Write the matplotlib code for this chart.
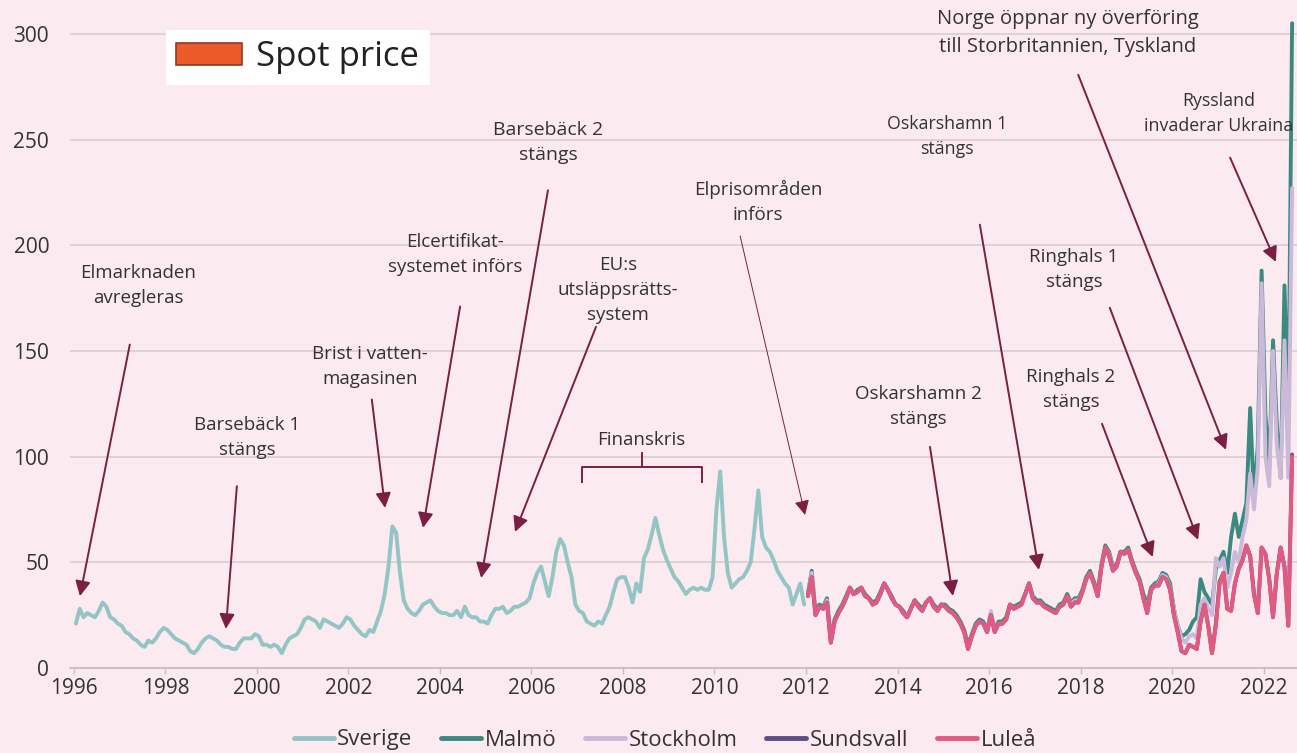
import numpy as np
import matplotlib.pyplot as plt
from matplotlib.patches import Patch

plt.rcParams['font.family'] = ['Open Sans', 'DejaVu Sans']

# monthly spot price, öre/kWh
sverige = [
    21, 28, 24, 26, 25, 24, 27, 31, 29, 24, 23, 21,   # 1996
    20, 17, 16, 14, 13, 11, 10, 13, 12, 14, 17, 19,   # 1997
    18, 16, 14, 13, 12, 11, 8, 7, 9, 12, 14, 15,      # 1998
    14, 13, 11, 10, 10, 9, 9, 12, 14, 14, 14, 16,     # 1999
    15, 11, 11, 10, 11, 10, 7, 11, 14, 15, 16, 19,    # 2000
    23, 24, 23, 22, 19, 23, 22, 21, 20, 19, 21, 24,   # 2001
    23, 20, 18, 16, 15, 18, 17, 22, 27, 35, 48, 67,   # 2002
    64, 45, 32, 28, 26, 25, 27, 30, 31, 32, 29, 27,   # 2003
    26, 26, 25, 25, 27, 24, 29, 25, 24, 24, 22, 22,   # 2004
    21, 25, 28, 28, 29, 26, 27, 29, 29, 30, 31, 33,   # 2005
    40, 45, 48, 41, 34, 43, 55, 61, 58, 50, 43, 30,   # 2006
    27, 26, 22, 21, 20, 22, 21, 25, 29, 36, 42, 43,   # 2007
    43, 38, 31, 40, 36, 52, 56, 63, 71, 63, 56, 51,   # 2008
    47, 43, 41, 38, 35, 37, 38, 37, 38, 37, 37, 43,   # 2009
    75, 93, 62, 45, 38, 40, 42, 43, 46, 50, 66, 84,   # 2010
    62, 57, 55, 51, 46, 43, 40, 38, 30, 35, 40, 30,   # 2011
]

malmo = [
    35, 46, 26, 30, 29, 33, 14, 23, 27, 30, 34, 38,   # 2012
    35, 37, 38, 35, 33, 31, 32, 36, 40, 37, 34, 30,   # 2013
    29, 27, 24, 28, 32, 30, 28, 31, 33, 30, 28, 30,   # 2014
    30, 28, 27, 25, 22, 18, 11, 16, 21, 23, 22, 18,   # 2015
    26, 18, 22, 22, 24, 30, 29, 30, 31, 35, 40, 34,   # 2016
    32, 32, 30, 29, 28, 27, 30, 31, 35, 31, 33, 33,   # 2017
    37, 43, 46, 41, 36, 49, 58, 55, 48, 49, 55, 55,   # 2018
    57, 51, 46, 42, 35, 30, 38, 40, 41, 45, 44, 40,   # 2019
    28, 20, 15, 16, 18, 22, 24, 42, 36, 33, 30, 47,   # 2020
    51, 55, 45, 62, 73, 62, 70, 78, 123, 80, 105, 188,  # 2021
    120, 95, 155, 115, 90, 181, 117, 305,             # 2022
]

stockholm = [
    34, 45, 25, 29, 28, 32, 13, 22, 26, 29, 33, 38,   # 2012
    35, 36, 38, 34, 33, 30, 31, 35, 40, 37, 33, 30,   # 2013
    29, 26, 24, 28, 32, 29, 27, 31, 33, 29, 27, 30,   # 2014
    29, 27, 26, 24, 21, 17, 10, 15, 20, 22, 21, 17,   # 2015
    27, 17, 21, 21, 23, 30, 28, 29, 30, 35, 40, 33,   # 2016
    31, 31, 29, 28, 27, 26, 29, 30, 34, 30, 32, 32,   # 2017
    36, 42, 45, 40, 35, 48, 57, 54, 47, 48, 55, 54,   # 2018
    56, 50, 45, 41, 33, 28, 37, 39, 40, 44, 43, 38,   # 2019
    28, 20, 14, 12, 15, 16, 14, 30, 33, 28, 25, 52,   # 2020
    48, 52, 38, 45, 55, 50, 62, 70, 92, 75, 95, 182,  # 2021
    100, 86, 150, 105, 90, 155, 90, 227,              # 2022
]

sundsvall = [
    34, 43, 25, 29, 28, 31, 12, 22, 26, 29, 33, 38,   # 2012
    35, 36, 38, 34, 33, 30, 31, 35, 40, 37, 33, 30,   # 2013
    29, 26, 24, 28, 32, 29, 27, 31, 33, 29, 27, 30,   # 2014
    29, 27, 26, 24, 21, 17, 9, 15, 20, 22, 21, 17,    # 2015
    25, 17, 21, 21, 23, 30, 28, 29, 30, 35, 40, 33,   # 2016
    31, 31, 29, 28, 27, 26, 29, 30, 34, 29, 31, 31,   # 2017
    36, 42, 45, 40, 34, 48, 57, 53, 46, 48, 55, 54,   # 2018
    56, 50, 45, 41, 33, 26, 37, 39, 39, 43, 42, 37,   # 2019
    25, 17, 8, 7, 11, 10, 9, 22, 30, 20, 7, 21,       # 2020
    41, 45, 28, 27, 40, 47, 51, 58, 53, 35, 26, 57,   # 2021
    54, 42, 24, 45, 57, 48, 20, 101,                  # 2022
]

lulea = [
    34, 43, 25, 29, 28, 31, 12, 22, 26, 29, 33, 38,   # 2012
    35, 36, 38, 34, 33, 30, 31, 35, 40, 37, 33, 30,   # 2013
    29, 26, 24, 28, 32, 29, 27, 31, 33, 29, 27, 30,   # 2014
    29, 27, 26, 24, 21, 17, 9, 15, 20, 22, 21, 17,    # 2015
    25, 17, 21, 21, 23, 30, 28, 29, 30, 35, 40, 33,   # 2016
    31, 31, 29, 28, 27, 26, 29, 30, 34, 29, 31, 31,   # 2017
    36, 42, 45, 40, 34, 48, 57, 53, 46, 48, 55, 54,   # 2018
    56, 50, 45, 41, 33, 26, 37, 39, 39, 43, 42, 37,   # 2019
    25, 17, 8, 7, 11, 10, 9, 22, 30, 20, 7, 20,       # 2020
    40, 45, 28, 27, 40, 47, 51, 58, 53, 35, 26, 57,   # 2021
    54, 42, 24, 45, 57, 48, 20, 100,                  # 2022
]

series_names = ['Sverige', 'Malmö', 'Stockholm', 'Sundsvall', 'Luleå']
series_colors = ['#93c5c4', '#3b8a80', '#cbb9d9', '#5d4f86', '#e25a80']

BG = '#fbeaef'
ARROW = '#7a1f42'
TXT = '#333333'


def months(start_year, values):
    # mid-month position for each value
    return start_year + (np.arange(len(values)) + 0.5) / 12


fig = plt.figure(figsize=(12.97, 7.53), dpi=100, facecolor=BG)
ax = fig.add_axes([70 / 1297, 85 / 753, 1227 / 1297, 668 / 753])
ax.set_facecolor(BG)

data = [(1996, sverige), (2012, malmo), (2012, stockholm), (2012, sundsvall), (2012, lulea)]
for (y0, vals), name, col in zip(data, series_names, series_colors):
    ax.plot(months(y0, vals), vals, color=col, lw=2.8, label=name,
            solid_joinstyle='round', solid_capstyle='round')

ax.set_xlim(1995.913, 2022.732)
ax.set_ylim(0, 316)
ax.set_yticks(range(0, 301, 50))
ax.set_xticks(range(1996, 2023, 2))
ax.yaxis.grid(True, color='#dcd0d4', lw=1.3)
ax.set_axisbelow(True)
for s in ['top', 'right', 'left']:
    ax.spines[s].set_visible(False)
ax.spines['bottom'].set_color('#c9bdc1')
ax.spines['bottom'].set_linewidth(1.3)
ax.tick_params(axis='y', length=0, labelsize=15, labelcolor=TXT, pad=15)
ax.tick_params(axis='x', length=4, width=1, color='#c9bdc1', labelsize=15, labelcolor=TXT, pad=3)

# annotations: (text, text pos, arrow start, arrow tip, font size)
notes = [
    ('Elmarknaden\navregleras', (1997.40, 181), (1997.22, 153), (1996.13, 34), 13.5),
    ('Barsebäck 1\nstängs', (1999.78, 109), (1999.56, 86), (1999.32, 18.5), 13.5),
    ('Brist i vatten-\nmagasinen', (2002.47, 142.5), (2002.51, 127), (2002.80, 75.7), 13.5),
    ('Elcertifikat-\nsystemet införs', (2004.33, 195.5), (2004.44, 171), (2003.63, 66.3), 13.5),
    ('Barsebäck 2\nstängs', (2006.36, 248.5), (2006.36, 226), (2004.90, 42.6), 14),
    ('EU:s\nutsläppsrätts-\nsystem', (2007.89, 179), (2007.41, 161.4), (2005.64, 64.4), 13.5),
    ('Oskarshamn 2\nstängs', (2014.45, 123.5), (2014.71, 104.6), (2015.21, 34.1), 13.5),
    ('Oskarshamn 1\nstängs', (2015.08, 251.3), (2015.80, 209.7), (2017.09, 46.4), 12.8),
    ('Ringhals 1\nstängs', (2017.86, 188.4), (2018.64, 170.4), (2020.57, 60.6), 13.5),
    ('Ringhals 2\nstängs', (2017.79, 131.6), (2018.47, 115.5), (2019.58, 52.5), 13.5),
    ('Norge öppnar ny överföring\ntill Storbritannien, Tyskland', (2017.72, 300.5),
     (2017.95, 280.6), (2021.18, 103.2), 14.5),
    ('Ryssland\ninvaderar Ukraina', (2021.02, 262.2), (2021.27, 241.4), (2022.27, 192.1), 12.8),
]
for label, tpos, start, tip, fs in notes:
    ax.text(tpos[0], tpos[1], label, ha='center', va='center', fontsize=fs,
            color=TXT, linespacing=1.5)
    ax.annotate('', xy=tip, xytext=start,
                arrowprops=dict(arrowstyle='-|>,head_length=0.75,head_width=0.38',
                                color=ARROW, lw=1.4, mutation_scale=12,
                                shrinkA=0, shrinkB=0))

# thin arrow for price areas
ax.text(2010.95, 220.5, 'Elprisområden\ninförs', ha='center', va='center', fontsize=13.5,
        color=TXT, linespacing=1.5)
ax.annotate('', xy=(2011.98, 72.4), xytext=(2010.56, 204.4),
            arrowprops=dict(arrowstyle='-|>,head_length=0.75,head_width=0.38',
                            color=ARROW, lw=0.7, mutation_scale=12, shrinkA=0, shrinkB=0))

# finanskris bracket
ax.text(2008.39, 108, 'Finanskris', ha='center', va='center', fontsize=13.5, color=TXT)
ax.plot([2007.10, 2007.10, 2009.73, 2009.73], [88, 95.1, 95.1, 88], color=ARROW, lw=1.4)
ax.plot([2008.42, 2008.42], [95.1, 101.7], color=ARROW, lw=1.4)

# spot price box
leg1 = ax.legend(handles=[Patch(facecolor='#ec5a2a', edgecolor='#8c3d22', lw=1.2)],
                 labels=['Spot price'], loc='upper left',
                 bbox_to_anchor=(166 / 1297, 1 - 30 / 753), bbox_transform=fig.transFigure,
                 borderaxespad=0, frameon=True, fancybox=False, framealpha=1,
                 facecolor='white', edgecolor='none', fontsize=25,
                 handlelength=1.9, handleheight=0.6, handletextpad=0.4,
                 borderpad=0.3)
for t in leg1.get_texts():
    t.set_color('#222222')

handles, labels = ax.get_lines()[:5], series_names
leg2 = fig.legend(handles, labels, loc='center', ncol=5,
                  bbox_to_anchor=(665 / 1297, 13 / 753), frameon=False, fontsize=16,
                  handlelength=1.8, handletextpad=0.15, columnspacing=1.3,
                  borderpad=0)
for line in leg2.get_lines():
    line.set_linewidth(3.5)
for t in leg2.get_texts():
    t.set_color(TXT)

fig.savefig('out.png', dpi=100, facecolor=BG)
